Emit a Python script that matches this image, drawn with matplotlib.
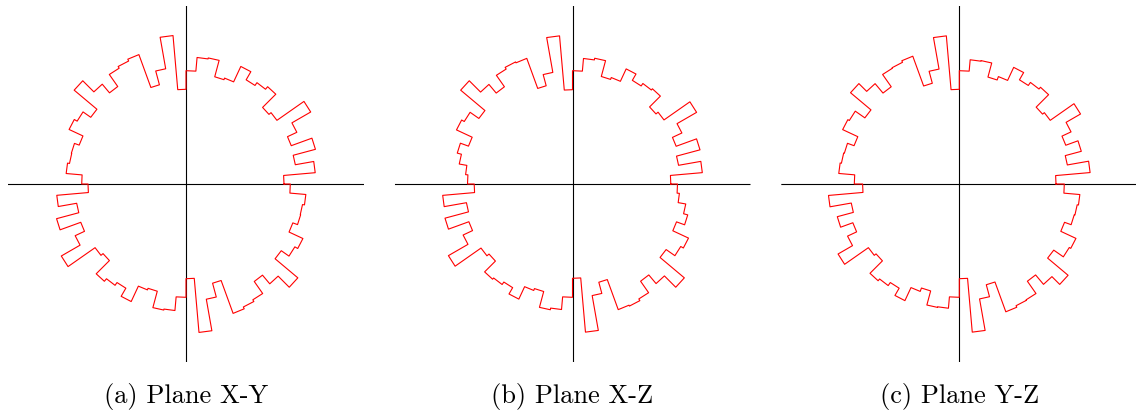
import numpy as np
import matplotlib
matplotlib.use("Agg")
import matplotlib.pyplot as plt

# Radius of each 5-degree bin from 0 to 180 degrees (the histogram is point symmetric,
# so the 180-360 half repeats these values)
bin_width_deg = 5
radius_xy = [98.0, 129.7, 111.0, 134.0, 112.0, 122.3, 144.0, 111.0, 108.3, 127.0,
             123.7, 120.3, 129.7, 112.7, 111.0, 128.0, 127.0, 113.3, 94.7, 149.0,
             117.0, 102.7, 137.7, 135.7, 133.7, 119.0, 130.3, 146.0, 116.3, 125.7,
             129.0, 113.7, 118.7, 118.3, 120.3, 104.3]
radius_xz = [98.3, 130.3, 107.7, 132.0, 110.3, 120.7, 143.3, 111.7, 109.0, 124.3,
             122.7, 119.7, 127.0, 113.3, 111.3, 127.7, 126.0, 113.3, 94.3, 148.7,
             113.3, 101.7, 133.7, 134.7, 132.7, 118.7, 130.0, 146.0, 114.3, 125.0,
             128.0, 110.7, 119.3, 115.0, 107.3, 105.0]
radius_yz = [96.7, 131.3, 109.7, 126.3, 113.3, 123.3, 140.0, 111.0, 108.7, 126.3,
             124.0, 120.3, 128.7, 114.3, 110.7, 125.3, 124.7, 113.3, 94.7, 148.7,
             116.7, 104.3, 136.0, 134.3, 133.7, 118.7, 131.0, 142.0, 115.3, 127.0,
             128.7, 112.0, 119.0, 119.7, 121.0, 105.0]
captions = ["(a) Plane X-Y", "(b) Plane X-Z", "(c) Plane Y-Z"]
axis_extent = 178.0

W, H = 1136, 418
fig = plt.figure(figsize=(W / 100, H / 100), dpi=100)
fig.patch.set_facecolor("white")

centers_x = [186.0, 572.5, 959.3]
center_y = 184.0
caption_y = 397.0

for cx, radii, cap in zip(centers_x, [radius_xy, radius_xz, radius_yz], captions):
    rect = [(cx - axis_extent) / W, (H - center_y - axis_extent) / H,
            2 * axis_extent / W, 2 * axis_extent / H]
    ax = fig.add_axes(rect, projection="polar")
    ax.set_ylim(0, axis_extent)
    ax.grid(False)
    ax.set_xticks([])
    ax.set_yticks([])
    ax.spines["polar"].set_visible(False)
    ax.set_facecolor("none")

    # coordinate axes through the centre
    for ang in [0, 0.5 * np.pi, np.pi, 1.5 * np.pi]:
        ax.plot([ang, ang], [0, axis_extent], color="black", lw=0.8, zorder=1)

    full = np.array(list(radii) + list(radii))
    n = len(full)
    edges = np.deg2rad(np.arange(n + 1) * bin_width_deg)
    th = []
    rr = []
    for k in range(n):
        th += [edges[k], edges[k + 1]]
        rr += [full[k], full[k]]
    th.append(edges[0] + 2 * np.pi)
    rr.append(full[0])
    ax.plot(th, rr, color="red", lw=0.8, zorder=3)

    fig.text(cx / W, 1 - caption_y / H, cap, ha="center", va="center",
             family="cmr10", fontsize=19)

fig.savefig("out.png", dpi=100, facecolor="white")
